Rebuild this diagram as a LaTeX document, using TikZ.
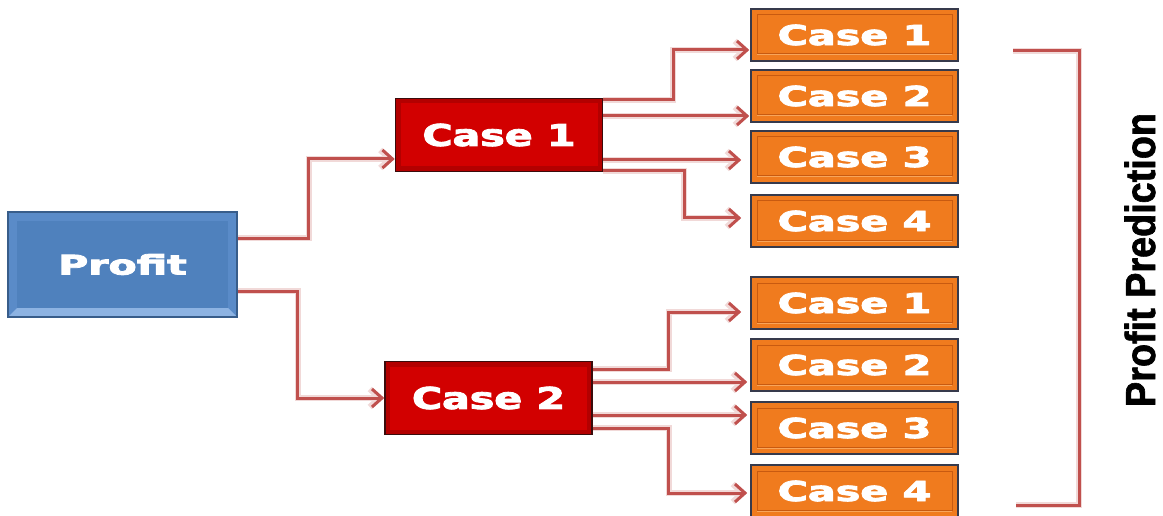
\documentclass[tikz,border=0pt]{standalone}
\usepackage{fontspec}
\usetikzlibrary{arrows.meta}
\newfontfamily\boxfont[FakeBold=2.8]{DejaVu Sans Bold}
\newfontfamily\sidefont[FakeBold=1.6]{Liberation Sans Bold}

\definecolor{profitmain}{HTML}{4F81BD}
\definecolor{profitedge}{HTML}{385D8A}
\definecolor{profitlight}{HTML}{8DB3E2}
\definecolor{profitside}{HTML}{5A8BC8}
\definecolor{redmain}{HTML}{D20000}
\definecolor{redouter}{HTML}{B30000}
\definecolor{rededge}{HTML}{3A0C0C}
\definecolor{orangemain}{HTML}{F07B1E}
\definecolor{orangeinner}{HTML}{C85A10}
\definecolor{orangelight}{HTML}{F9A55A}
\definecolor{boxedge}{HTML}{363A4C}
\definecolor{linkred}{HTML}{C0504D}

\newcommand{\widecase}[2]{\scalebox{#1}[1]{#2}}

\tikzset{
  profitbox/.style={draw=profitedge, line width=1.2pt, fill=profitside,
    minimum width=229pt, minimum height=105pt, inner sep=0pt, text=white,
    font=\boxfont\fontsize{27}{30}\selectfont,
    path picture={
      \fill[profitlight] (path picture bounding box.south west)
        -- (path picture bounding box.south east)
        -- ([shift={(-9pt,9pt)}]path picture bounding box.south east)
        -- ([shift={(9pt,9pt)}]path picture bounding box.south west) -- cycle;
      \fill[profitmain] ([shift={(9pt,9pt)}]path picture bounding box.south west)
        rectangle ([shift={(-9pt,-9pt)}]path picture bounding box.north east);
    }},
  redbox/.style={draw=rededge, line width=1.6pt, fill=redouter,
    minimum width=207pt, minimum height=73pt, inner sep=0pt, text=white,
    font=\boxfont\fontsize{30}{33}\selectfont,
    path picture={
      \fill[redmain] ([shift={(5pt,5pt)}]path picture bounding box.south west)
        rectangle ([shift={(-5pt,-5pt)}]path picture bounding box.north east);
    }},
  casebox/.style={draw=boxedge, line width=1.6pt, fill=orangemain,
    minimum width=207pt, minimum height=52pt, inner sep=0pt, text=white,
    font=\boxfont\fontsize{27.5}{30}\selectfont,
    path picture={
      \draw[orangelight, line width=1pt]
        ([shift={(6pt,6pt)}]path picture bounding box.south west)
        -- ([shift={(-6pt,6pt)}]path picture bounding box.south east);
      \draw[orangeinner, line width=1pt]
        ([shift={(6pt,7pt)}]path picture bounding box.south west)
        rectangle ([shift={(-6pt,-6pt)}]path picture bounding box.north east);
    }},
  link/.style={draw=linkred, line width=3pt,
    preaction={draw=linkred!22, line width=6pt},
    -{Straight Barb[length=10pt,width=18pt]}},
  bracketline/.style={draw=linkred, line width=3pt,
    preaction={draw=linkred!22, line width=5.5pt}},
  sidelabel/.style={rotate=90, inner sep=0pt, text=black,
    font=\sidefont\fontsize{42}{46}\selectfont}
}

\begin{document}
\begin{tikzpicture}[x=1pt, y=-1pt]
  \useasboundingbox (0,0) rectangle (1163,516);

  % root
  \node[profitbox] (profit) at (122.5,264.5) {\widecase{1.52}{Profit}};

  % first level
  \node[redbox] (r1) at (499,135) {\widecase{1.37}{Case 1}};
  \node[redbox] (r2) at (488.5,398) {\widecase{1.37}{Case 2}};

  % second level
  \node[casebox] (o1) at (854.5,35)  {\widecase{1.5}{Case 1}};
  \node[casebox] (o2) at (854.5,96)  {\widecase{1.5}{Case 2}};
  \node[casebox] (o3) at (854.5,157) {\widecase{1.5}{Case 3}};
  \node[casebox] (o4) at (854.5,221) {\widecase{1.5}{Case 4}};
  \node[casebox] (o5) at (854.5,303) {\widecase{1.5}{Case 1}};
  \node[casebox] (o6) at (854.5,365) {\widecase{1.5}{Case 2}};
  \node[casebox] (o7) at (854.5,428) {\widecase{1.5}{Case 3}};
  \node[casebox] (o8) at (854.5,491) {\widecase{1.5}{Case 4}};

  % root to first level
  \draw[link] ([yshift=26.5pt]profit.east) -- ++(71,0) |- ([yshift=-24pt]r1.west);
  \draw[link] ([yshift=-26.5pt]profit.east) -- ++(60,0) |- (r2.west);

  % first case to its outcomes
  \draw[link, shorten >=1pt] ([yshift=35pt]r1.east) -- ++(70,0) |- ([yshift=-15pt]o1.west);
  \draw[link, shorten >=1pt] ([yshift=19pt]r1.east) -- ([yshift=19pt]r1.east -| o2.west);
  \draw[link, shorten >=9pt] ([yshift=-25pt]r1.east) -- ([yshift=-25pt]r1.east -| o3.west);
  \draw[link, shorten >=9pt] ([yshift=-36pt]r1.east) -- ++(81,0) |- ([yshift=3pt]o4.west);

  % second case to its outcomes
  \draw[link, shorten >=9pt] ([yshift=29pt]r2.east) -- ++(76,0) |- ([yshift=-9pt]o5.west);
  \draw[link, shorten >=3pt] ([yshift=16pt]r2.east) -- ([yshift=16pt]r2.east -| o6.west);
  \draw[link, shorten >=3pt] ([yshift=-17pt]r2.east) -- ([yshift=-17pt]r2.east -| o7.west);
  \draw[link, shorten >=3pt] ([yshift=-30pt]r2.east) -- ++(76,0) |- ([yshift=-2pt]o8.west);

  % bracket and its label
  \coordinate (bracketTop) at (1013,51);
  \coordinate (bracketCornerTop) at (1079,51);
  \coordinate (bracketCornerBottom) at (1079,505);
  \coordinate (bracketBottom) at (1016,505);
  \draw[bracketline] (bracketTop) -- (bracketCornerTop) -- (bracketCornerBottom) -- (bracketBottom);
  \node[sidelabel] (prediction) at (1140,260) {\widecase{0.9}{Profit Prediction}};
\end{tikzpicture}
\end{document}
